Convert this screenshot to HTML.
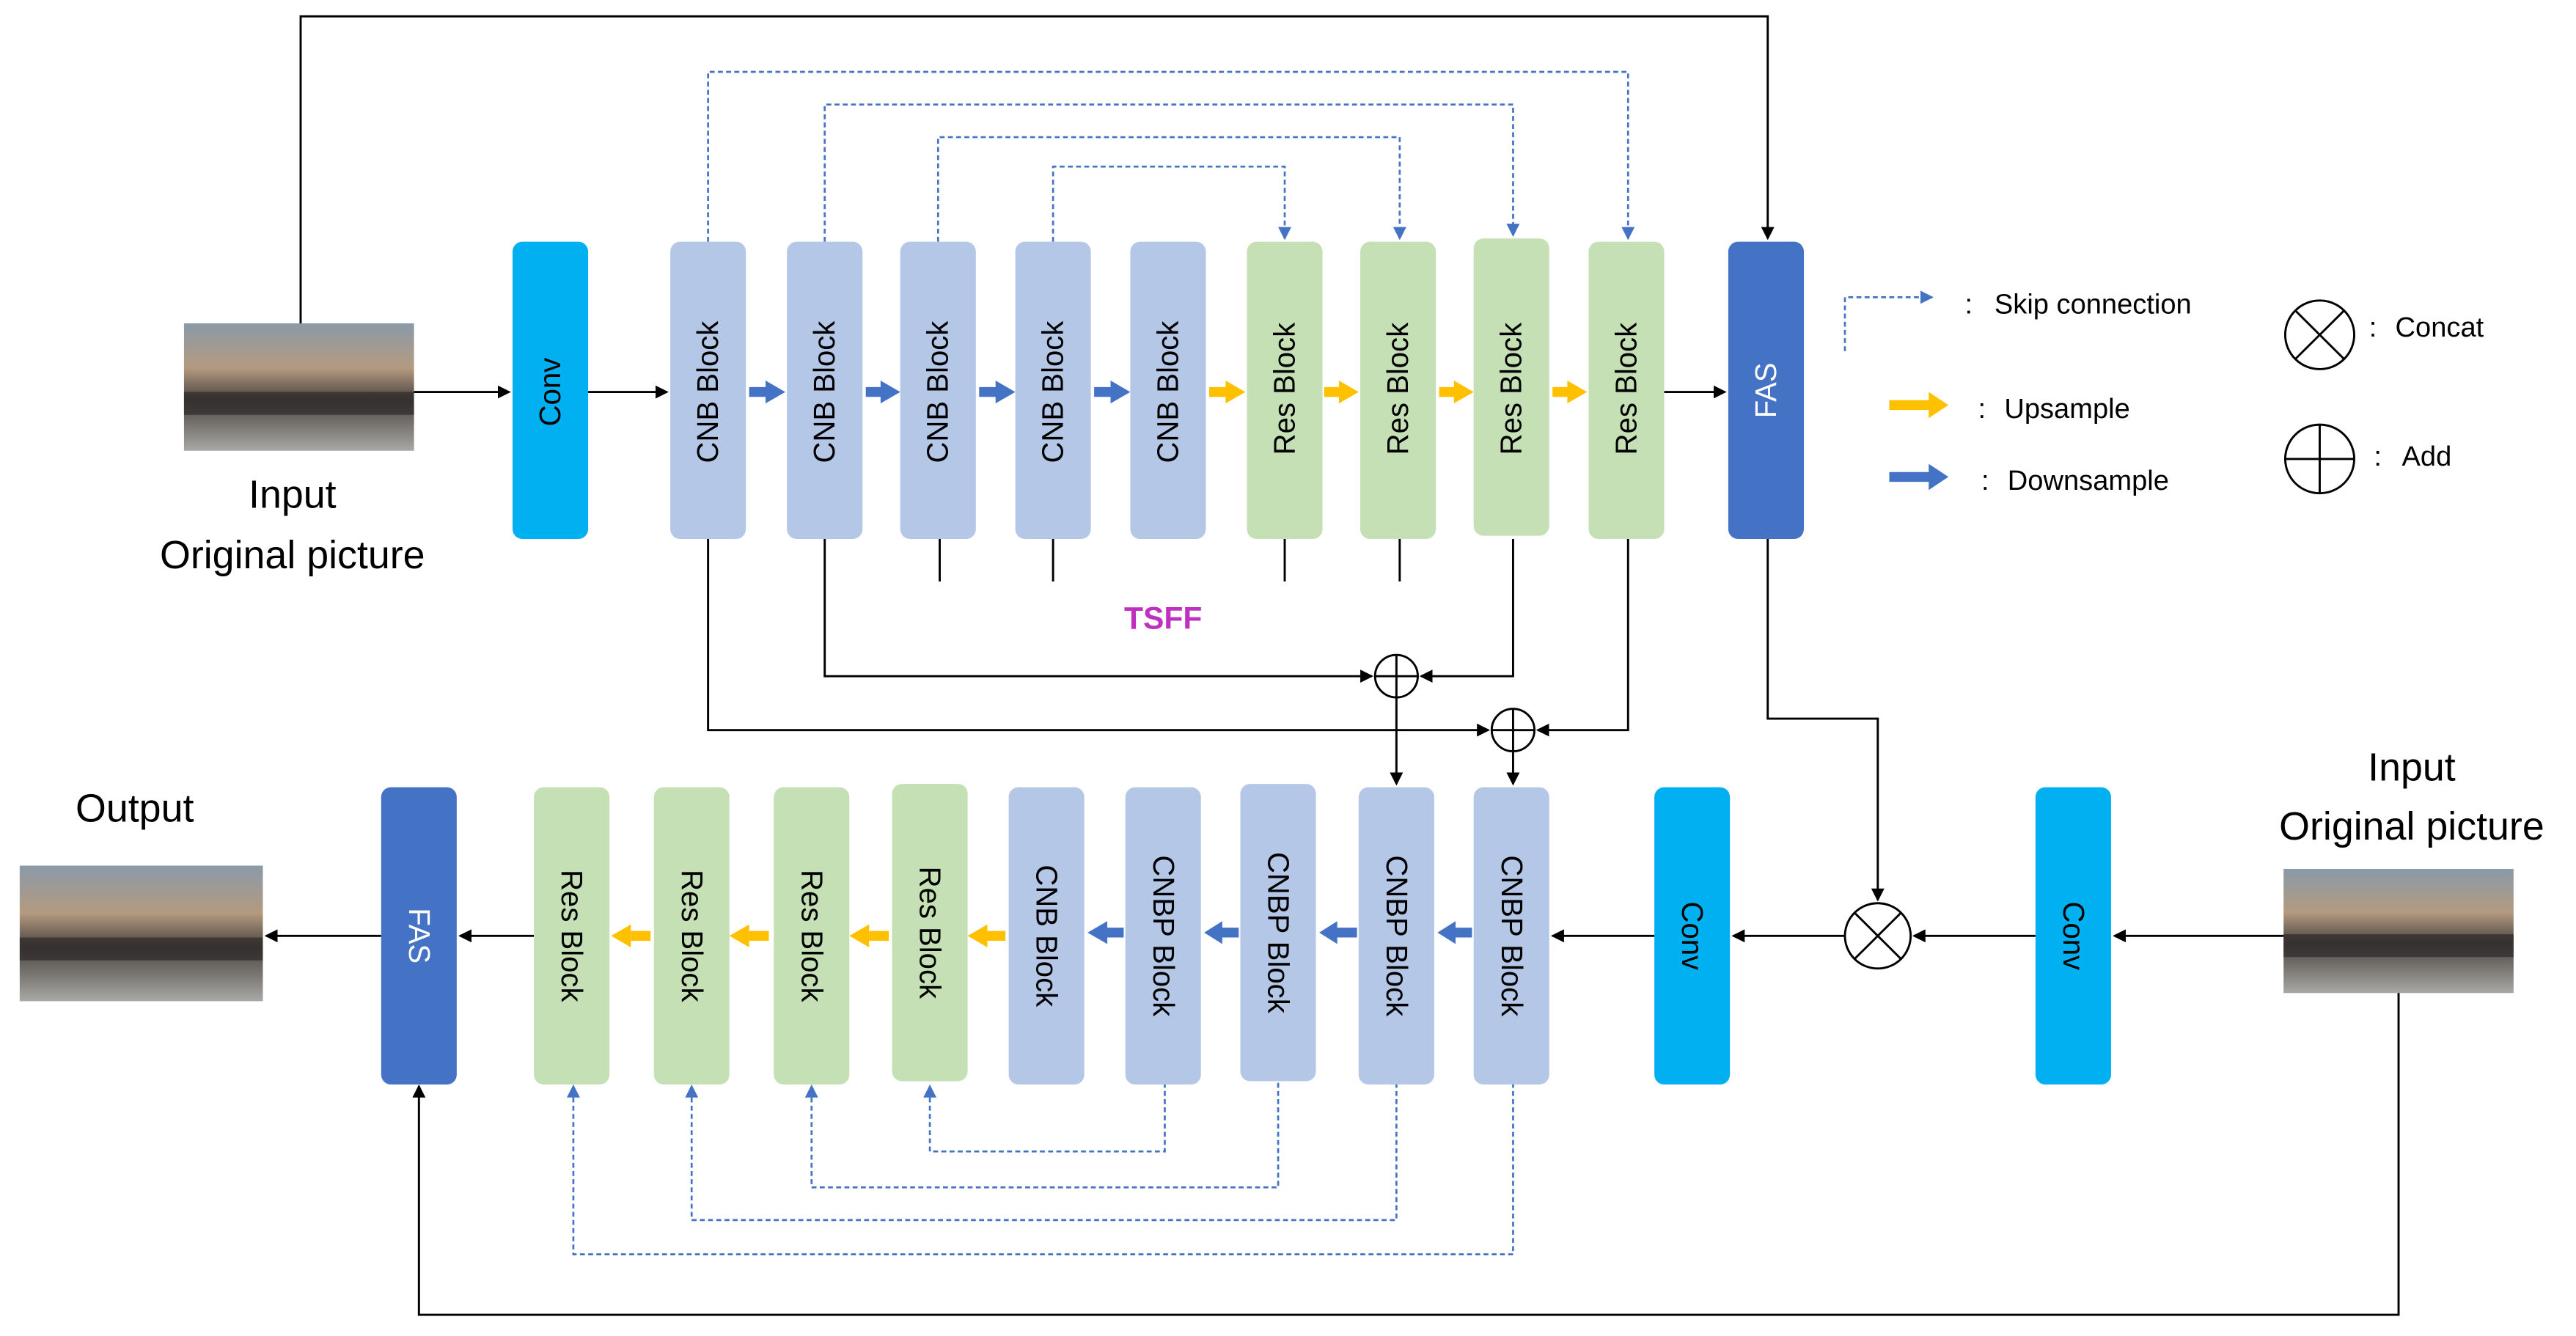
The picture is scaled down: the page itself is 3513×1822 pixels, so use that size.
<!DOCTYPE html>
<html><head><meta charset="utf-8"><style>html,body{margin:0;padding:0;background:#fff}svg{display:block}</style></head>
<body>
<svg width="3513" height="1822" viewBox="0 0 1568 818" preserveAspectRatio="none" xmlns="http://www.w3.org/2000/svg" font-family="Liberation Sans, sans-serif">
<defs>
<marker id="ak" markerWidth="8" markerHeight="8" refX="7" refY="4" orient="auto" markerUnits="userSpaceOnUse"><path d="M0,0 L8,4 L0,8 z" fill="#000"/></marker>
<marker id="ab" markerWidth="8" markerHeight="8" refX="7" refY="4" orient="auto" markerUnits="userSpaceOnUse"><path d="M0,0 L8,4 L0,8 z" fill="#4472c4"/></marker>
<linearGradient id="ph" x1="0" y1="0" x2="0" y2="1"><stop offset="0" stop-color="#8a9aa8"/><stop offset="0.35" stop-color="#b49a80"/><stop offset="0.6" stop-color="#4a4440"/><stop offset="1" stop-color="#a8a8a4"/></linearGradient>
</defs>
<g id="photos">
<rect x="112" y="198" width="140" height="78" fill="url(#ph)"/>
<rect x="112" y="240" width="140" height="14" fill="#2e2a2a" opacity="0.7"/>
<rect x="12" y="530" width="148" height="83" fill="url(#ph)"/>
<rect x="12" y="574" width="148" height="14" fill="#2e2a2a" opacity="0.7"/>
<rect x="1390" y="532" width="140" height="76" fill="url(#ph)"/>
<rect x="1390" y="572" width="140" height="14" fill="#2e2a2a" opacity="0.7"/>
</g>
<g font-size="24" text-anchor="middle" fill="#000">
<text x="178" y="311">Input</text><text x="178" y="348">Original picture</text>
<text x="82" y="503">Output</text>
<text x="1468" y="478">Input</text><text x="1468" y="514">Original picture</text>
</g>
<g fill="none" stroke="#000" stroke-width="1.3">
<path d="M183,198 V10 H1076 V146" marker-end="url(#ak)"/>
<path d="M252,240 H310" marker-end="url(#ak)"/>
<path d="M358,240 H406" marker-end="url(#ak)"/>
<path d="M1013,240 H1050" marker-end="url(#ak)"/>
<path d="M431,330 V447 H906" marker-end="url(#ak)"/>
<path d="M991,330 V447 H936" marker-end="url(#ak)"/>
<path d="M502,330 V414 H835" marker-end="url(#ak)"/>
<path d="M921,330 V414 H865" marker-end="url(#ak)"/>
<path d="M572,330 V356 M641,330 V356 M782,330 V356 M852,330 V356"/>
<path d="M850,427 V480" marker-end="url(#ak)"/>
<path d="M921,460 V480" marker-end="url(#ak)"/>
<path d="M1076,330 V440 H1143 V551" marker-end="url(#ak)"/>
<path d="M1390,573 H1287" marker-end="url(#ak)"/>
<path d="M1239,573 H1165" marker-end="url(#ak)"/>
<path d="M1123,573 H1055" marker-end="url(#ak)"/>
<path d="M1007,573 H945" marker-end="url(#ak)"/>
<path d="M325,573 H280" marker-end="url(#ak)"/>
<path d="M232,573 H162" marker-end="url(#ak)"/>
<path d="M1460,608 V805 H255 V665" marker-end="url(#ak)"/>
</g>
<g fill="none" stroke="#4472c4" stroke-width="1.2" stroke-dasharray="3,2">
<path d="M431,148 V44 H991 V146" marker-end="url(#ab)"/>
<path d="M502,148 V64 H921 V144" marker-end="url(#ab)"/>
<path d="M571,148 V84 H852 V146" marker-end="url(#ab)"/>
<path d="M641,148 V102 H782 V146" marker-end="url(#ab)"/>
<path d="M709,663 V705 H566 V665" marker-end="url(#ab)"/>
<path d="M778,663 V727 H494 V665" marker-end="url(#ab)"/>
<path d="M850,663 V747 H421 V665" marker-end="url(#ab)"/>
<path d="M921,663 V768 H349 V665" marker-end="url(#ab)"/>
<path d="M1123,215 V182 H1176" marker-end="url(#ab)"/>
</g>
<g stroke="#000" stroke-width="1.3" fill="#fff">
<circle cx="850" cy="414" r="13"/><path d="M837,414 H863 M850,401 V427"/>
<circle cx="921" cy="447" r="13"/><path d="M908,447 H934 M921,434 V460"/>
<circle cx="1143" cy="573" r="20"/><path d="M1129,559 L1157,587 M1157,559 L1129,587"/>
<circle cx="1412" cy="205" r="21"/><path d="M1397,190 L1427,220 M1427,190 L1397,220"/>
<circle cx="1412" cy="281" r="21"/><path d="M1391,281 H1433 M1412,260 V302"/>
</g>
<g>
<rect x="312" y="148" width="46" height="182" rx="6" fill="#00b0f0"/>
<rect x="408" y="148" width="46" height="182" rx="6" fill="#b4c7e7"/>
<rect x="479" y="148" width="46" height="182" rx="6" fill="#b4c7e7"/>
<rect x="548" y="148" width="46" height="182" rx="6" fill="#b4c7e7"/>
<rect x="618" y="148" width="46" height="182" rx="6" fill="#b4c7e7"/>
<rect x="688" y="148" width="46" height="182" rx="6" fill="#b4c7e7"/>
<rect x="759" y="148" width="46" height="182" rx="6" fill="#c5e0b4"/>
<rect x="828" y="148" width="46" height="182" rx="6" fill="#c5e0b4"/>
<rect x="897" y="146" width="46" height="182" rx="6" fill="#c5e0b4"/>
<rect x="967" y="148" width="46" height="182" rx="6" fill="#c5e0b4"/>
<rect x="1052" y="148" width="46" height="182" rx="6" fill="#4472c4"/>
<rect x="232" y="482" width="46" height="182" rx="6" fill="#4472c4"/>
<rect x="325" y="482" width="46" height="182" rx="6" fill="#c5e0b4"/>
<rect x="398" y="482" width="46" height="182" rx="6" fill="#c5e0b4"/>
<rect x="471" y="482" width="46" height="182" rx="6" fill="#c5e0b4"/>
<rect x="543" y="480" width="46" height="182" rx="6" fill="#c5e0b4"/>
<rect x="614" y="482" width="46" height="182" rx="6" fill="#b4c7e7"/>
<rect x="685" y="482" width="46" height="182" rx="6" fill="#b4c7e7"/>
<rect x="755" y="480" width="46" height="182" rx="6" fill="#b4c7e7"/>
<rect x="827" y="482" width="46" height="182" rx="6" fill="#b4c7e7"/>
<rect x="897" y="482" width="46" height="182" rx="6" fill="#b4c7e7"/>
<rect x="1007" y="482" width="46" height="182" rx="6" fill="#00b0f0"/>
<rect x="1239" y="482" width="46" height="182" rx="6" fill="#00b0f0"/>
</g>
<g font-size="18" text-anchor="middle" fill="#000">
<text transform="translate(341,240) rotate(-90)">Conv</text>
<text transform="translate(437,240) rotate(-90)">CNB Block</text>
<text transform="translate(508,240) rotate(-90)">CNB Block</text>
<text transform="translate(577,240) rotate(-90)">CNB Block</text>
<text transform="translate(647,240) rotate(-90)">CNB Block</text>
<text transform="translate(717,240) rotate(-90)">CNB Block</text>
<text transform="translate(788,238) rotate(-90)">Res Block</text>
<text transform="translate(857,238) rotate(-90)">Res Block</text>
<text transform="translate(926,238) rotate(-90)">Res Block</text>
<text transform="translate(996,238) rotate(-90)">Res Block</text>
<text transform="translate(1081,239) rotate(-90)" fill="#fff">FAS</text>
<text transform="translate(249,573) rotate(90)" fill="#fff">FAS</text>
<text transform="translate(342,573) rotate(90)">Res Block</text>
<text transform="translate(415,573) rotate(90)">Res Block</text>
<text transform="translate(488,573) rotate(90)">Res Block</text>
<text transform="translate(560,571) rotate(90)">Res Block</text>
<text transform="translate(631,573) rotate(90)">CNB Block</text>
<text transform="translate(702,573) rotate(90)">CNBP Block</text>
<text transform="translate(772,571) rotate(90)">CNBP Block</text>
<text transform="translate(844,573) rotate(90)">CNBP Block</text>
<text transform="translate(914,573) rotate(90)">CNBP Block</text>
<text transform="translate(1024,573) rotate(90)">Conv</text>
<text transform="translate(1256,573) rotate(90)">Conv</text>
</g>
<g stroke-width="6" fill="none">
<g stroke="#4472c4">
<path d="M456,240 H468 M527,240 H538 M596,240 H608 M666,240 H678"/>
<path d="M1150,292 H1176"/>
<path d="M896,571 H884 M826,571 H812 M754,571 H742 M684,571 H672"/>
</g>
<g stroke="#ffc000">
<path d="M736,240 H748 M806,240 H817 M876,240 H887 M945,240 H956"/>
<path d="M1150,248 H1176"/>
<path d="M384,573 H396 M456,573 H468 M529,573 H541 M601,573 H612"/>
</g>
</g>
<g fill="#4472c4">
<path d="M466,233 L478,240 L466,247z M536,233 L548,240 L536,247z M606,233 L618,240 L606,247z M676,233 L688,240 L676,247z M1174,284 L1186,292 L1174,300z"/>
<path d="M886,564 L875,571 L886,578z M814,564 L803,571 L814,578z M744,564 L733,571 L744,578z M674,564 L662,571 L674,578z"/>
</g>
<g fill="#ffc000">
<path d="M746,233 L758,240 L746,247z M815,233 L827,240 L815,247z M885,233 L897,240 L885,247z M954,233 L966,240 L954,247z M1174,240 L1186,248 L1174,256z"/>
<path d="M384,566 L372,573 L384,580z M456,566 L444,573 L456,580z M529,566 L517,573 L529,580z M601,566 L589,573 L601,580z"/>
</g>
<text x="708" y="385" font-size="19" font-weight="bold" fill="#c030c0" text-anchor="middle">TSFF</text>
<g font-size="17" fill="#000">
<text x="1196" y="192">:</text><text x="1214" y="192">Skip connection</text>
<text x="1204" y="256">:</text><text x="1220" y="256">Upsample</text>
<text x="1206" y="300">:</text><text x="1222" y="300">Downsample</text>
<text x="1442" y="206">:</text><text x="1458" y="206">Concat</text>
<text x="1445" y="285">:</text><text x="1462" y="285">Add</text>
</g>
</svg>
</body></html>
